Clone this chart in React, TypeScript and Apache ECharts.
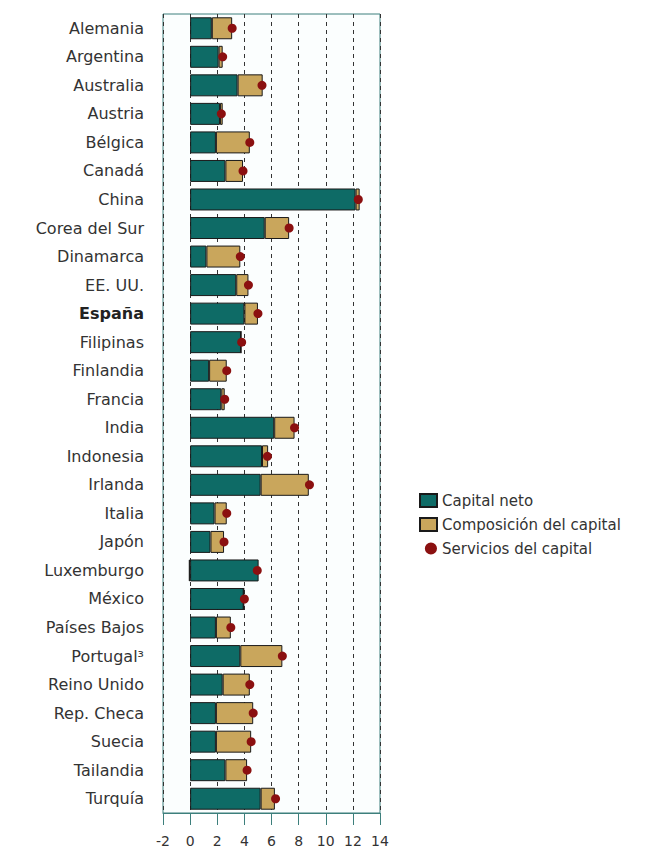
import React, { useEffect, useRef } from "react";
import * as echarts from "echarts";

const categories = [
  "Alemania", "Argentina", "Australia", "Austria", "Bélgica", "Canadá", "China",
  "Corea del Sur", "Dinamarca", "EE. UU.", "España", "Filipinas", "Finlandia", "Francia",
  "India", "Indonesia", "Irlanda", "Italia", "Japón", "Luxemburgo", "México",
  "Países Bajos", "Portugal³", "Reino Unido", "Rep. Checa", "Suecia", "Tailandia", "Turquía",
];

const capitalNeto = [
  1.6, 2.1, 3.5, 2.2, 1.9, 2.6, 12.2,
  5.5, 1.2, 3.4, 4.0, 3.75, 1.4, 2.3,
  6.2, 5.3, 5.2, 1.8, 1.5, 5.05, 3.95,
  1.9, 3.7, 2.4, 1.9, 1.9, 2.6, 5.2,
];

const composicion = [
  1.5, 0.3, 1.85, 0.2, 2.5, 1.3, 0.3,
  1.8, 2.5, 0.9, 1.0, 0.0, 1.3, 0.25,
  1.5, 0.45, 3.55, 0.9, 1.0, -0.1, 0.0,
  1.1, 3.1, 2.0, 2.75, 2.6, 1.6, 1.05,
];

const servicios = [
  3.1, 2.4, 5.3, 2.3, 4.4, 3.9, 12.4,
  7.3, 3.7, 4.3, 5.0, 3.8, 2.7, 2.55,
  7.7, 5.7, 8.8, 2.7, 2.5, 4.95, 4.0,
  3.0, 6.8, 4.4, 4.65, 4.5, 4.2, 6.3,
];

const xTicks = { min: -2, max: 14, interval: 2 };

export default function App() {
  const ref = useRef<HTMLDivElement>(null);
  useEffect(() => {
    if (!ref.current) return;
    const chart = echarts.init(ref.current, null, { renderer: "svg" });
    const font = "DejaVu Sans, Verdana, sans-serif";
    chart.setOption({
      animation: false,
      backgroundColor: "#ffffff",
      textStyle: { fontFamily: font },
      grid: {
        left: 163,
        right: 275,
        top: 14,
        bottom: 39,
        show: true,
        borderColor: "#3d7f7c",
        borderWidth: 1,
        backgroundColor: "#fbfefe",
      },
      legend: {
        orient: "vertical",
        left: 414,
        top: 488,
        itemGap: 9,
        itemWidth: 17,
        itemHeight: 13,
        textStyle: { fontFamily: font, fontSize: 15, color: "#333" },
        data: [
          { name: "Capital neto", icon: "rect" },
          { name: "Composición del capital", icon: "rect" },
          {
            name: "Servicios del capital",
            icon: "path://M0,0m-5,0a5,5 0 1,0 10,0a5,5 0 1,0 -10,0M-9,-5L-9,-5",
            itemStyle: { borderWidth: 0 },
          },
        ],
      },
      xAxis: {
        type: "value",
        min: xTicks.min,
        max: xTicks.max,
        interval: xTicks.interval,
        axisLine: { show: true, lineStyle: { color: "#3d7f7c", width: 1 } },
        axisTick: { show: true, length: 12, lineStyle: { color: "#3d7f7c" } },
        axisLabel: { fontFamily: font, fontSize: 14, color: "#333", margin: 21 },
        splitLine: { show: true, lineStyle: { color: "#333", type: [4, 4], width: 1 } },
      },
      yAxis: {
        type: "category",
        data: categories,
        inverse: true,
        axisLine: { show: false },
        axisTick: { show: false },
        axisLabel: {
          fontFamily: font,
          fontSize: 16,
          color: "#333",
          margin: 19,
          formatter: (v: string) => (v === "España" ? `{b|${v}}` : v),
          rich: { b: { fontFamily: font, fontSize: 16, fontWeight: "bold", color: "#222" } },
        },
      },
      series: [
        {
          name: "Capital neto",
          type: "bar",
          stack: "total",
          data: capitalNeto,
          barCategoryGap: "23%",
          itemStyle: { color: "#0e6b66", borderColor: "#1a1a1a", borderWidth: 1 },
        },
        {
          name: "Composición del capital",
          type: "bar",
          stack: "total",
          data: composicion,
          barCategoryGap: "23%",
          itemStyle: { color: "#c9a65c", borderColor: "#1a1a1a", borderWidth: 1 },
        },
        {
          name: "Servicios del capital",
          type: "scatter",
          data: servicios.map((v, i) => [v, categories[i]]),
          symbol: "circle",
          symbolSize: 9,
          itemStyle: { color: "#8b1010", opacity: 1 },
          z: 5,
        },
      ],
    });
    return () => chart.dispose();
  }, []);
  return (
    <div
      ref={ref}
      style={{ position: "fixed", left: 0, top: 0, width: 655, height: 852 }}
    />
  );
}
